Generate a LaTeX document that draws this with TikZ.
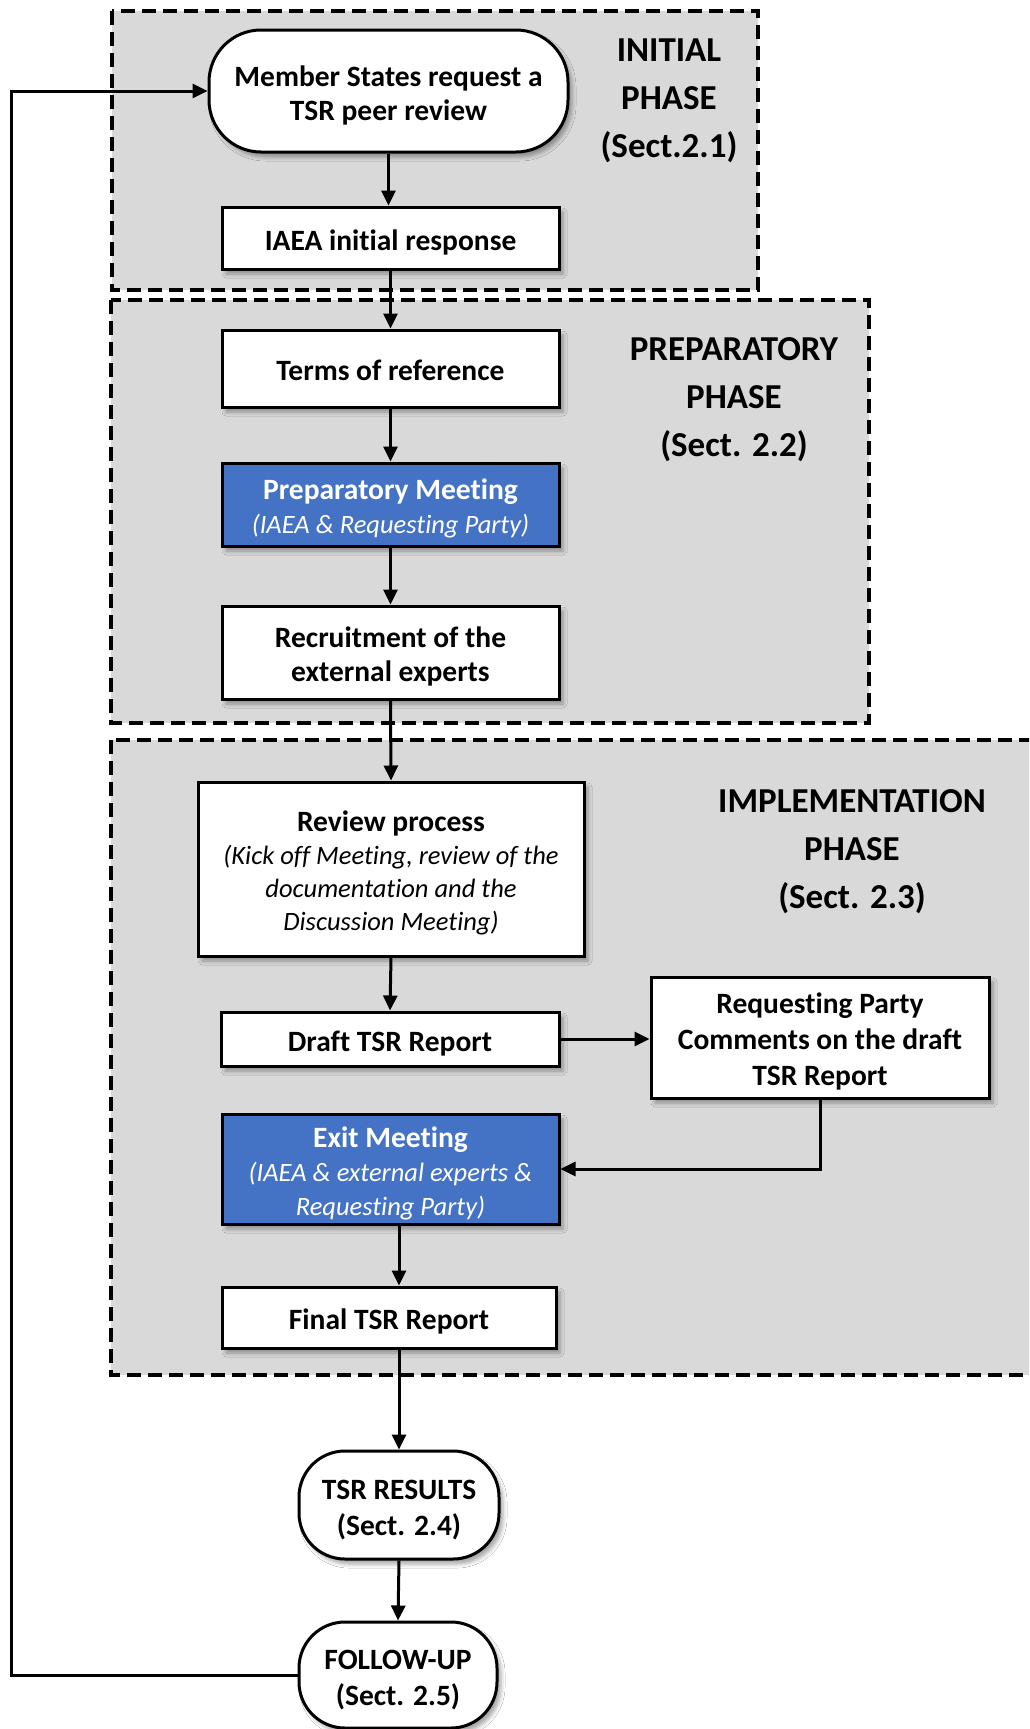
\documentclass[tikz,border=0pt]{standalone}
\usepackage{fontspec}
\setmainfont{Carlito}[Ligatures=CommonOff]
\usetikzlibrary{arrows.meta,shadows.blur}
\definecolor{phasegray}{HTML}{D9D9D9}
\definecolor{meetblue}{HTML}{4472C4}
\newcommand\bs{\rule[-6pt]{0pt}{29pt}}
\newcommand\tl{\rule[-6pt]{0pt}{36pt}}
\newcommand\lastl{\rule[-6pt]{0pt}{0pt}}
\newcommand\itl[1]{{\fontsize{26.5}{34}\selectfont\mdseries\itshape #1}}
\begin{document}
\begin{tikzpicture}[x=1pt,y=-1pt,
  phase/.style={draw=black, line width=4pt, dash pattern=on 14pt off 7pt, fill=phasegray},
  box/.style={draw=black, line width=3pt, fill=white, align=center, inner sep=0pt,
    font=\fontsize{29.5}{34}\selectfont\bfseries,
    blur shadow={shadow xshift=4pt, shadow yshift=-5pt, shadow blur radius=4pt, shadow opacity=35}},
  bluebox/.style={box, fill=meetblue, text=white},
  termbox/.style={box, rounded corners=52pt},
  lbl/.style={align=center, inner sep=0pt, font=\fontsize{35}{48}\selectfont\bfseries},
  arr/.style={line width=3pt, -{Triangle[length=15pt,width=14pt]}},
  ln/.style={line width=3pt}
]
\clip (0,0) rectangle (1029,1729);
\fill[white] (0,0) rectangle (1029,1729);

% phase frames
\draw[phase] (112,11) rectangle (758,290);
\draw[phase] (111,300) rectangle (869,723);
\draw[phase] (111,740) rectangle (1050,1375);

\node[lbl] (lini) at (669,101) {\bs INITIAL\\\bs PHASE\\\bs (Sect.2.1)};
\node[lbl] (lprep) at (734,400) {\bs PREPARATORY\\\bs PHASE\\\bs (Sect. 2.2)};
\node[lbl] (limp) at (852,852) {\bs IMPLEMENTATION\\\bs PHASE\\\bs (Sect. 2.3)};

% nodes
\node[termbox, minimum width=359pt, minimum height=122pt] (ms) at (388.5,91) {\tl Member States request a\\\lastl TSR peer review};
\node[box, minimum width=337pt, minimum height=62pt] (iaea) at (390.5,238) {\tl IAEA initial response};
\node[box, minimum width=337pt, minimum height=77pt] (tor) at (390.5,368.5) {\tl Terms of reference};
\node[bluebox, minimum width=337pt, minimum height=83pt] (pm) at (390.5,504.5) {\tl Preparatory Meeting\\\lastl\itl{(IAEA \& Requesting Party)}};
\node[box, minimum width=337pt, minimum height=93pt] (rec) at (390.5,652.5) {\tl Recruitment of the\\\lastl external experts};
\node[box, minimum width=386pt, minimum height=174pt, font=\fontsize{29.5}{33}\selectfont\bfseries] (rev) at (391,869) {\tl Review process\\\itl{(Kick off Meeting, review of the}\\\itl{documentation and the}\\\lastl\itl{Discussion Meeting)}};
\node[box, minimum width=338pt, minimum height=54pt] (draft) at (390,1039) {\tl Draft TSR Report};
\node[box, minimum width=338pt, minimum height=121pt, font=\fontsize{29.5}{36}\selectfont\bfseries] (rp) at (820,1037.5) {\tl Requesting Party\\Comments on the draft\\\lastl TSR Report};
\node[bluebox, minimum width=337pt, minimum height=110pt] (exit) at (390.5,1169) {\tl Exit Meeting\\\itl{(IAEA \& external experts \&}\\\lastl\itl{Requesting Party)}};
\node[box, minimum width=334pt, minimum height=61pt] (final) at (389,1317.5) {\tl Final TSR Report};
\node[box, rounded corners=46pt, minimum width=200pt, minimum height=108pt, font=\fontsize{29.5}{36}\selectfont\bfseries] (res) at (399,1505) {\tl TSR RESULTS\\\lastl (Sect. 2.4)};
\node[box, rounded corners=46pt, minimum width=198pt, minimum height=106pt, font=\fontsize{29.5}{36}\selectfont\bfseries] (fu) at (398,1675) {\tl FOLLOW-UP\\\lastl (Sect. 2.5)};
\coordinate (lft) at (11,1679);

% connectors
\draw[arr] (ms.south) -- (ms.south |- iaea.north);
\draw[arr] (iaea.south) -- (tor.north);
\draw[arr] (tor.south) -- (pm.north);
\draw[arr] (pm.south) -- (rec.north);
\draw[arr] (rec.south) -- (rev.north);
\draw[arr] (rev.south) -- (draft.north);
\draw[arr] (draft.east) -- (draft.east -| rp.west);
\draw[arr] (rp.south) |- (exit.east);
\draw[arr] (res.north |- exit.south) -- (res.north |- final.north);
\draw[arr] (res.north |- final.south) -- (res.north);
\draw[arr] (res.south) -- (fu.north);
\draw[arr] (fu.west) -- (fu.west -| lft) |- (ms.west);
\end{tikzpicture}
\end{document}
